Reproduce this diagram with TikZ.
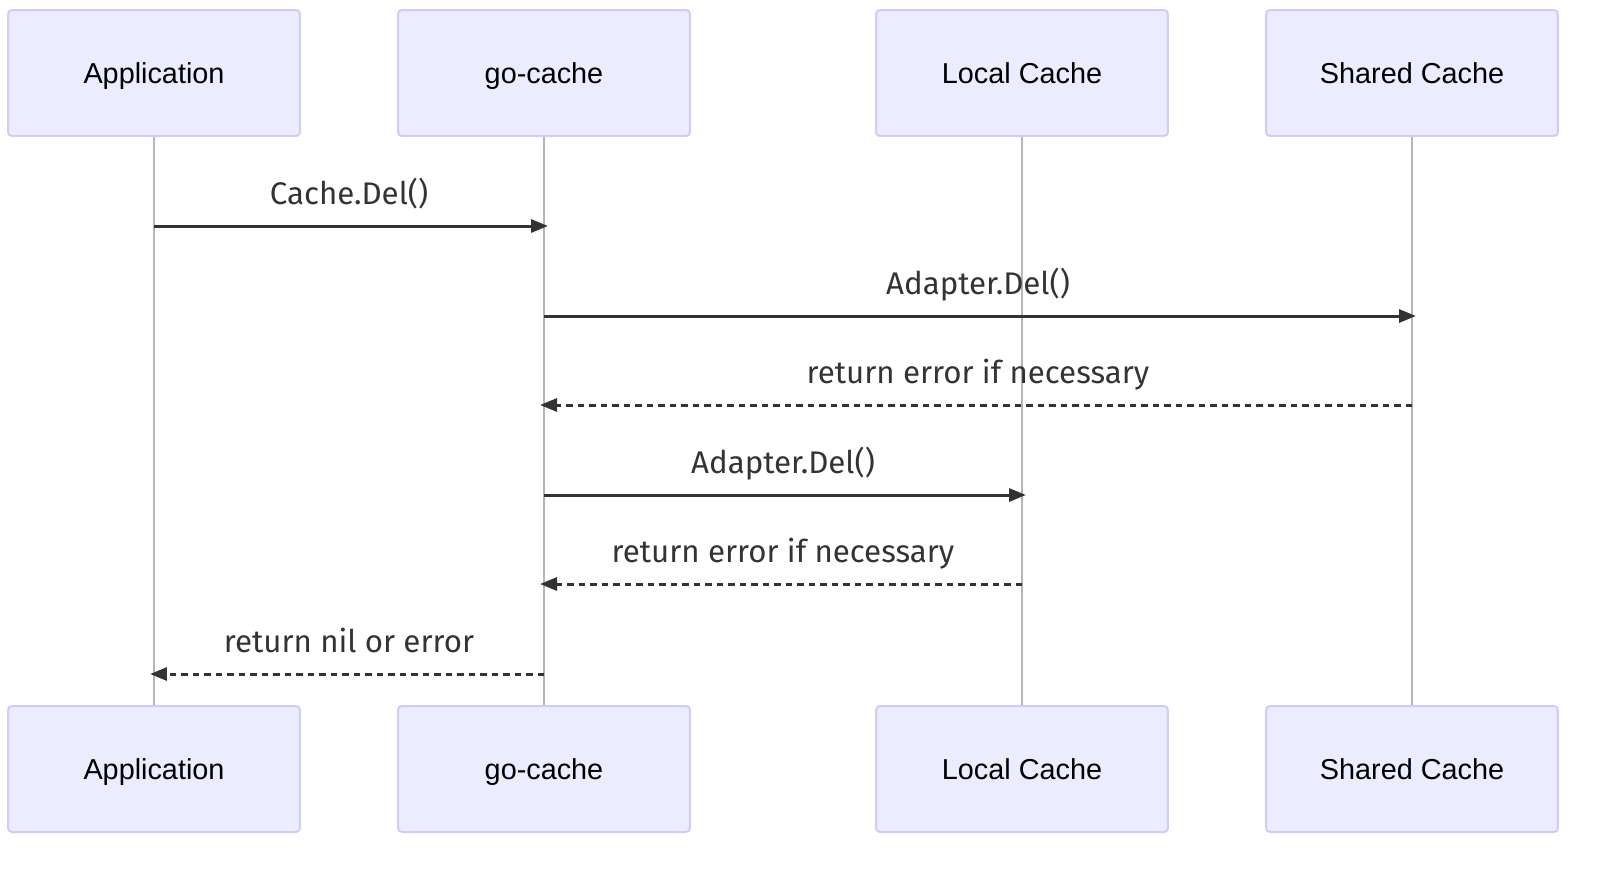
\documentclass[tikz,border=0pt]{standalone}
\usepackage{fontspec}
\setmainfont{Liberation Sans}
\newfontfamily\msgfont{Fira Sans}
\usepackage{xcolor}
\usetikzlibrary{arrows.meta}

\definecolor{actorfill}{HTML}{ECECFF}
\definecolor{actorline}{HTML}{D3CBF3}
\definecolor{lifegray}{HTML}{B5B5B5}
\definecolor{msgcolor}{HTML}{333333}

\begin{document}
\begin{tikzpicture}[
    x=0.02cm, y=-0.02cm,
    actor/.style={rectangle, draw=actorline, fill=actorfill, line width=0.04cm, rounded corners=0.08cm, minimum width=5.84cm, minimum height=2.52cm, text height=0.48cm, text depth=0.08cm, font=\fontsize{16.4}{19}\selectfont},
    life/.style={draw=lifegray, line width=0.035cm},
    msg/.style={-{Triangle[length=0.34cm, width=0.26cm]}, line width=0.06cm, draw=msgcolor, shorten >=-0.08cm},
    reply/.style={msg, dash pattern=on 0.13cm off 0.1cm},
    lbl/.style={font=\msgfont\fontsize{17.8}{21}\selectfont, text=msgcolor, anchor=base, inner sep=0pt, yshift=0.44cm}
]
    \useasboundingbox (0,0) rectangle (1608,870);

    % actors, top row
    \node[actor] (app) at (154,73) {Application};
    \node[actor] (gc) at (544,73) {go-cache};
    \node[actor] (local) at (1022,73) {Local Cache};
    \node[actor] (shared) at (1412,73) {Shared Cache};

    % actors, bottom row
    \node[actor] (appB) at (154,769) {Application};
    \node[actor] (gcB) at (544,769) {go-cache};
    \node[actor] (localB) at (1022,769) {Local Cache};
    \node[actor] (sharedB) at (1412,769) {Shared Cache};

    % lifelines
    \draw[life] (app) -- (appB);
    \draw[life] (gc) -- (gcB);
    \draw[life] (local) -- (localB);
    \draw[life] (shared) -- (sharedB);

    % message rows
    \coordinate (r1) at (0,226);
    \coordinate (r2) at (0,316);
    \coordinate (r3) at (0,405);
    \coordinate (r4) at (0,495);
    \coordinate (r5) at (0,584);
    \coordinate (r6) at (0,674);

    \draw[msg] (app |- r1) -- node[lbl] {Cache.Del()} (gc |- r1);
    \draw[msg] (gc |- r2) -- node[lbl] {Adapter.Del()} (shared |- r2);
    \draw[reply] (shared |- r3) -- node[lbl] {return error if necessary} (gc |- r3);
    \draw[msg] (gc |- r4) -- node[lbl] {Adapter.Del()} (local |- r4);
    \draw[reply] (local |- r5) -- node[lbl] {return error if necessary} (gc |- r5);
    \draw[reply] (gc |- r6) -- node[lbl] {return nil or error} (app |- r6);
\end{tikzpicture}
\end{document}
